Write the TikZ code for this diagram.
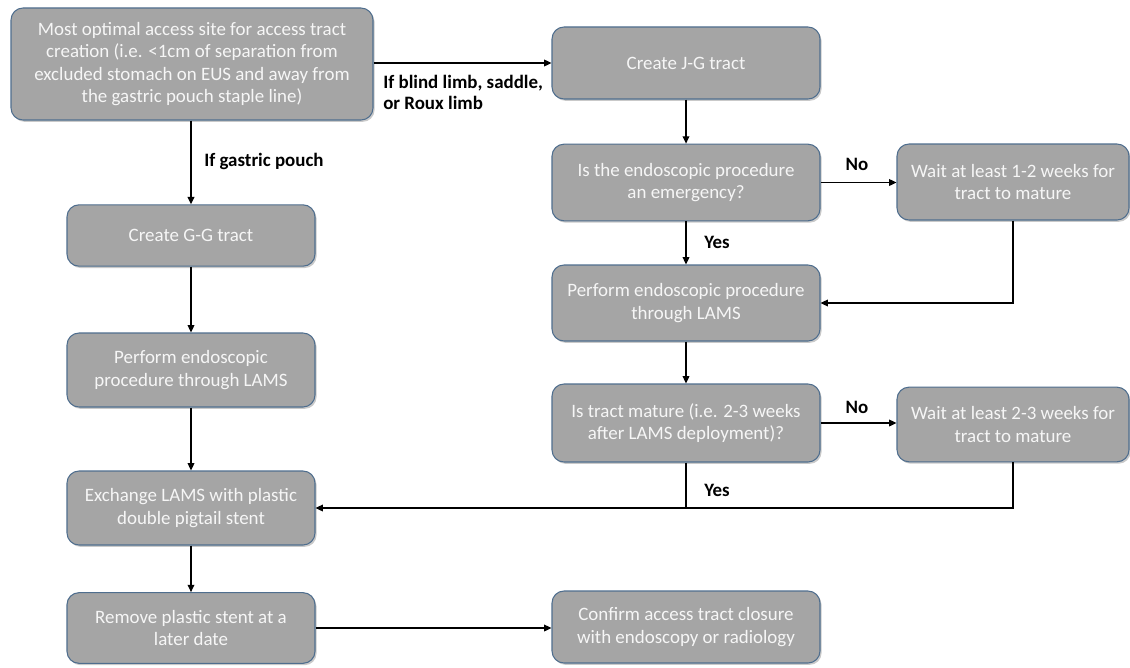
\documentclass[tikz,border=0pt]{standalone}
\usepackage{fontspec}
\setmainfont{Carlito}
\usetikzlibrary{arrows.meta,shadows,calc}
\definecolor{boxfill}{HTML}{A5A5A5}
\definecolor{boxline}{HTML}{4F6E8E}
\definecolor{boxtext}{HTML}{F6F6F6}
\begin{document}
\begin{tikzpicture}[x=0.75pt,y=-0.75pt,
  flowbox/.style={draw=boxline, line width=0.8pt, fill=boxfill, rounded corners=9pt,
    text=boxtext, align=center, inner sep=2pt, font=\fontsize{14.2}{16.7}\selectfont,
    drop shadow={shadow xshift=1.2pt, shadow yshift=-1.4pt, opacity=0.35, fill=black!60}},
  lbl/.style={font=\bfseries\fontsize{14.2}{15.8}\selectfont, text=black, inner sep=0pt, align=left},
  conn/.style={line width=1pt, draw=black},
  arr/.style={conn, -{Triangle[length=5.5pt,width=5pt]}}
]
\useasboundingbox (0,0) rectangle (1130,667);
\fill[white] (0,0) rectangle (1130,667);

% left column
\node[flowbox, minimum width=271.5pt, minimum height=84pt] (A) at (192,64)
  {Most optimal access site for access tract\\creation (i.e. <1cm of separation from\\excluded stomach on EUS and away from\\the gastric pouch staple line)};
\node[flowbox, minimum width=186pt, minimum height=46pt] (GG) at (191,235.5) {Create G-G tract};
\node[flowbox, minimum width=186pt, minimum height=55.5pt] (PL) at (191,370) {Perform endoscopic\\procedure through LAMS};
\node[flowbox, minimum width=186pt, minimum height=55.5pt] (EX) at (191,508) {Exchange LAMS with plastic\\double pigtail stent};
\node[flowbox, minimum width=186pt, minimum height=53pt] (RM) at (191,628) {Remove plastic stent at a\\later date};

% middle column
\node[flowbox, minimum width=201pt, minimum height=54pt] (JG) at (686,63) {Create J-G tract};
\node[flowbox, minimum width=201pt, minimum height=57.5pt] (EM) at (686,182.5) {Is the endoscopic procedure\\an emergency?};
\node[flowbox, minimum width=201pt, minimum height=57pt] (PR) at (686,303) {Perform endoscopic procedure\\through LAMS};
\node[flowbox, minimum width=201pt, minimum height=58.5pt] (MT) at (686,423) {Is tract mature (i.e. 2-3 weeks\\after LAMS deployment)?};
\node[flowbox, minimum width=201pt, minimum height=54pt] (CF) at (686,627) {Confirm access tract closure\\with endoscopy or radiology};

% right column
\node[flowbox, minimum width=174pt, minimum height=57pt] (W1) at (1013,182) {Wait at least 1-2 weeks for\\tract to mature};
\node[flowbox, minimum width=174pt, minimum height=56pt] (W2) at (1013,424.5) {Wait at least 2-3 weeks for\\tract to mature};

% connectors
\draw[arr] (A.east |- JG.west) -- (JG.west);
\draw[arr] (A.south -| GG.north) -- (GG.north);
\draw[arr] (GG) -- (PL);
\draw[arr] (PL) -- (EX);
\draw[arr] (EX) -- (RM);
\draw[arr] (RM.east) -- (RM.east -| CF.west);
\draw[arr] (JG) -- (EM);
\draw[arr] (EM.east) -- (EM.east -| W1.west);
\draw[arr] (EM) -- (PR);
\draw[arr] (W1.south) |- (PR.east);
\draw[arr] (PR) -- (MT);
\draw[arr] (MT.east) -- (MT.east -| W2.west);
\draw[arr] (W2.south) |- (EX.east);
\coordinate (J) at (MT.south |- EX.east);
\draw[conn] (MT.south) -- (J);

% labels
\node[lbl, anchor=north west] (L1) at (383,75) {If blind limb, saddle,\\or Roux limb};
\node[lbl, anchor=west] (L2) at (204,161) {If gastric pouch};
\node[lbl] (L3) at (857,164) {No};
\node[lbl] (L4) at (717,242) {Yes};
\node[lbl] (L5) at (857,407) {No};
\node[lbl] (L6) at (717,490) {Yes};
\end{tikzpicture}
\end{document}
